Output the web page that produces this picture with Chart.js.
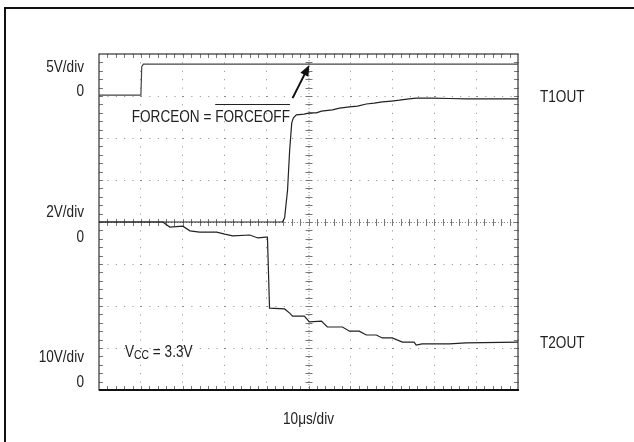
<!DOCTYPE html>
<html>
<head>
<meta charset="utf-8">
<script src="https://cdn.jsdelivr.net/npm/chart.js@4.4.1/dist/chart.umd.min.js"></script>
<style>
  html, body { margin: 0; padding: 0; background: #fff; }
  #wrap { width: 634px; height: 442px; position: relative; }
</style>
</head>
<body>
<div id="wrap"><canvas id="scope"></canvas></div>
<script>
// time in microseconds (10us/div, 10 divisions), level in screen divisions (0..8)
var forceTime  = [0, 10, 10.2, 10.6, 30, 60, 100];
var forceLevel = [7.02, 7.02, 7.70, 7.76, 7.76, 7.76, 7.76];

var t1Time  = [0, 43.8, 44.3, 45.0, 45.5, 46.0, 46.4, 47.1, 49.0, 50.2, 51.9, 53.1, 55.7, 57.4, 59.8, 61.7, 63.8, 65.7, 67.6, 69.8, 71.7, 74.0, 75.7, 79.5, 83.6, 87.6, 91.4, 100];
var t1Level = [4.0, 4.0, 4.10, 4.76, 5.71, 6.36, 6.48, 6.55, 6.57, 6.60, 6.60, 6.64, 6.67, 6.71, 6.74, 6.76, 6.81, 6.83, 6.86, 6.88, 6.90, 6.93, 6.95, 6.95, 6.94, 6.93, 6.93, 6.93];

var t2Time  = [0, 15.2, 16.9, 20.0, 21.7, 24.0, 28.1, 30.0, 31.9, 36.0, 37.9, 39.8, 40.2, 40.7, 44.3, 45.5, 46.2, 49.0, 50.2, 53.1, 54.5, 58.1, 59.8, 62.1, 63.8, 66.2, 67.6, 70.0, 72.4, 75.2, 75.7, 77.1, 83.6, 87.6, 100];
var t2Level = [4.0, 4.0, 3.88, 3.90, 3.79, 3.76, 3.76, 3.71, 3.67, 3.69, 3.62, 3.64, 3.64, 1.95, 1.93, 1.83, 1.76, 1.76, 1.62, 1.64, 1.50, 1.50, 1.40, 1.40, 1.31, 1.31, 1.24, 1.24, 1.14, 1.14, 1.07, 1.10, 1.10, 1.12, 1.14];

var leftLabels  = ['5V/div', '0', '2V/div', '0', '10V/div', '0'];
var leftLabelY  = [7.69, 7.10, 4.24, 3.64, 0.79, 0.19];
var traceNames  = ['T1OUT', 'T2OUT'];
var traceNameY  = [6.96, 1.12];

function pts(xs, ys) {
  return xs.map(function (x, i) { return { x: x, y: ys[i] }; });
}

var FONT = '"Liberation Sans", Arial, sans-serif';
var SQ = 0.8; // narrow look

// draw horizontally squeezed text, returns drawn width
function txt(ctx, t, x, y, size, align) {
  ctx.font = size + 'px ' + FONT;
  var w = ctx.measureText(t).width * SQ;
  var sx = x;
  if (align === 'right') sx = x - w;
  else if (align === 'center') sx = x - w / 2;
  ctx.save();
  ctx.translate(sx, y);
  ctx.scale(SQ, 1);
  ctx.textAlign = 'left';
  ctx.textBaseline = 'middle';
  ctx.fillText(t, 0, 0);
  ctx.restore();
  return w;
}

var scopeDeco = {
  id: 'scopeDeco',
  beforeDatasetsDraw: function (chart) {
    var ctx = chart.ctx, a = chart.chartArea;
    var xs = chart.scales.x, ys = chart.scales.y;
    var cx = xs.getPixelForValue(50), cy = ys.getPixelForValue(4);
    ctx.save();
    // centre axes, dense dotted
    ctx.strokeStyle = '#888';
    ctx.lineWidth = 1;
    ctx.setLineDash([1, 2]);
    ctx.beginPath();
    ctx.moveTo(cx + 0.5, a.top); ctx.lineTo(cx + 0.5, a.bottom);
    ctx.moveTo(a.left, cy + 0.5); ctx.lineTo(a.right, cy + 0.5);
    ctx.stroke();
    ctx.setLineDash([]);
    // minor ticks on centre axes and edges
    ctx.strokeStyle = '#777';
    ctx.beginPath();
    var v, p;
    for (v = 2; v < 100; v += 2) {
      p = Math.round(xs.getPixelForValue(v)) + 0.5;
      ctx.moveTo(p, cy - 3); ctx.lineTo(p, cy + 4);
      ctx.moveTo(p, a.top); ctx.lineTo(p, a.top + 4);
      ctx.moveTo(p, a.bottom); ctx.lineTo(p, a.bottom - 4);
    }
    for (v = 0.2; v < 8; v += 0.2) {
      p = Math.round(ys.getPixelForValue(v)) + 0.5;
      ctx.moveTo(cx - 3, p); ctx.lineTo(cx + 4, p);
      ctx.moveTo(a.left, p); ctx.lineTo(a.left + 4, p);
      ctx.moveTo(a.right, p); ctx.lineTo(a.right - 4, p);
    }
    ctx.stroke();
    // plot frame
    ctx.strokeStyle = '#333';
    ctx.lineWidth = 1.2;
    ctx.strokeRect(a.left, a.top, a.right - a.left, a.bottom - a.top);
    ctx.strokeStyle = '#111';
    ctx.lineWidth = 2;
    ctx.beginPath();
    ctx.moveTo(a.left, a.bottom); ctx.lineTo(a.right + 1, a.bottom);
    ctx.stroke();
    ctx.restore();
  },
  afterDraw: function (chart) {
    var ctx = chart.ctx, a = chart.chartArea;
    var xs = chart.scales.x, ys = chart.scales.y;
    ctx.save();
    // outer figure frame
    ctx.strokeStyle = '#111';
    ctx.lineWidth = 2;
    ctx.strokeRect(5, 8, 700, 500);
    ctx.fillStyle = '#222';
    // channel scale labels
    leftLabels.forEach(function (t, i) {
      txt(ctx, t, a.left - 15, ys.getPixelForValue(leftLabelY[i]), 17, 'right');
    });
    // trace names
    traceNames.forEach(function (t, i) {
      txt(ctx, t, a.right + 22, ys.getPixelForValue(traceNameY[i]), 17, 'left');
    });
    // time base
    txt(ctx, '10\u03bcs/div', xs.getPixelForValue(50), a.bottom + 29, 17, 'center');
    // Vcc
    var vx = xs.getPixelForValue(6.2), vy = ys.getPixelForValue(0.9);
    var w = txt(ctx, 'V', vx, vy, 17, 'left');
    w += txt(ctx, 'CC', vx + w, vy + 3, 13, 'left');
    txt(ctx, ' = 3.3V', vx + w, vy, 17, 'left');
    // FORCEON = FORCEOFF (overlined)
    var fx = xs.getPixelForValue(7.8), fy = ys.getPixelForValue(6.5);
    var w3 = txt(ctx, 'FORCEON = ', fx, fy, 17, 'left');
    var w4 = txt(ctx, 'FORCEOFF', fx + w3, fy, 17, 'left');
    ctx.strokeStyle = '#222';
    ctx.lineWidth = 1;
    ctx.beginPath();
    ctx.moveTo(fx + w3, fy - 12.5); ctx.lineTo(fx + w3 + w4, fy - 12.5);
    ctx.stroke();
    // arrow
    var x0 = xs.getPixelForValue(46.2), y0 = ys.getPixelForValue(6.95);
    var x1 = xs.getPixelForValue(50.2), y1 = ys.getPixelForValue(7.74);
    var ang = Math.atan2(y1 - y0, x1 - x0);
    ctx.lineWidth = 2;
    ctx.strokeStyle = '#111';
    ctx.beginPath();
    ctx.moveTo(x0, y0);
    ctx.lineTo(x1 - 7 * Math.cos(ang), y1 - 7 * Math.sin(ang));
    ctx.stroke();
    ctx.fillStyle = '#111';
    ctx.beginPath();
    ctx.moveTo(x1, y1);
    ctx.lineTo(x1 - 11 * Math.cos(ang) + 4.5 * Math.sin(ang), y1 - 11 * Math.sin(ang) - 4.5 * Math.cos(ang));
    ctx.lineTo(x1 - 11 * Math.cos(ang) - 4.5 * Math.sin(ang), y1 - 11 * Math.sin(ang) + 4.5 * Math.cos(ang));
    ctx.closePath();
    ctx.fill();
    ctx.restore();
  }
};

var traceStyle = { borderColor: '#222', borderWidth: 1.2, pointRadius: 0, tension: 0, fill: false };

new Chart(document.getElementById('scope'), {
  type: 'line',
  data: {
    datasets: [
      Object.assign({ label: 'FORCEON', data: pts(forceTime, forceLevel) }, traceStyle, { borderColor: '#444' }),
      Object.assign({ label: 'T1OUT', data: pts(t1Time, t1Level) }, traceStyle),
      Object.assign({ label: 'T2OUT', data: pts(t2Time, t2Level) }, traceStyle)
    ]
  },
  options: {
    responsive: true,
    maintainAspectRatio: false,
    animation: false,
    events: [],
    layout: { padding: { left: 99, top: 54, right: 116, bottom: 52 } },
    plugins: { legend: { display: false }, tooltip: { enabled: false } },
    scales: {
      x: {
        type: 'linear', min: 0, max: 100,
        ticks: { display: false, stepSize: 10 },
        grid: { color: '#8a8a8a', drawTicks: false, lineWidth: 1 },
        border: { display: false, dash: [1, 7.4] }
      },
      y: {
        type: 'linear', min: 0, max: 8,
        ticks: { display: false, stepSize: 1 },
        grid: { color: '#8a8a8a', drawTicks: false, lineWidth: 1 },
        border: { display: false, dash: [1, 7.4] }
      }
    }
  },
  plugins: [scopeDeco]
});
</script>
</body>
</html>
